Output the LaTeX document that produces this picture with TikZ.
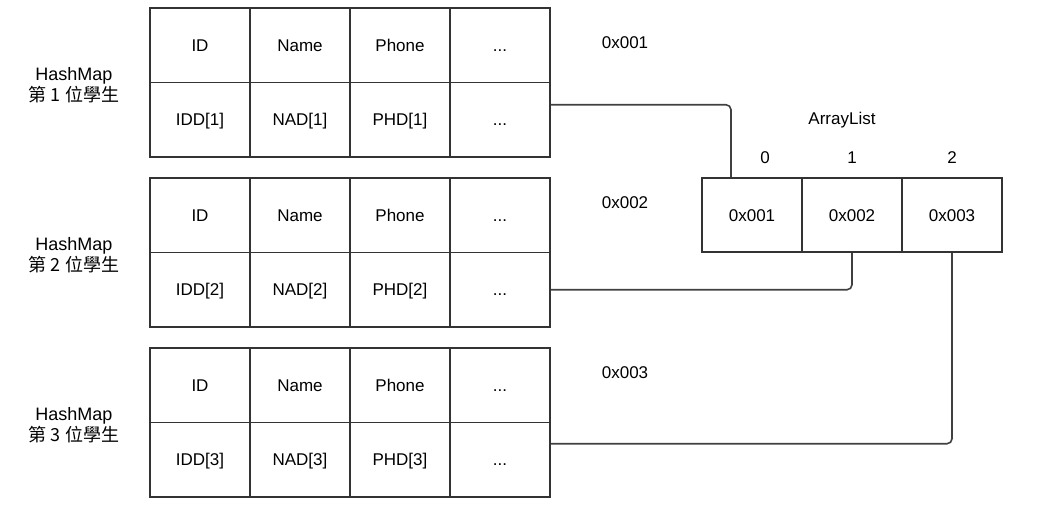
\documentclass[tikz,border=0pt]{standalone}
\usepackage{fontspec}
\setmainfont{Liberation Sans}
\newfontfamily\cjk{Noto Sans CJK TC}
\usetikzlibrary{calc}
\tikzset{
	cell/.style={draw=black!80, line width=1.6pt, minimum width=100pt, minimum height=74.5pt, inner sep=0pt, text height=12.5pt, text depth=0pt, font=\fontsize{17}{20}\selectfont},
	label/.style={font=\fontsize{17}{20}\selectfont, align=center},
	owner/.style={font=\fontsize{18}{21}\selectfont, align=center},
	link/.style={draw=black!75, line width=1.6pt, rounded corners=5pt}
}

\begin{document}
\begin{tikzpicture}[x=1pt, y=-1pt]
		%%%%% START %%%%%
		\useasboundingbox (0, 0) rectangle (1045, 518);
		
		% first student
		\node[cell] (h1a) at (200, 45.25) {ID};
		\node[cell] (h1b) at (300, 45.25) {Name};
		\node[cell] (h1c) at (400, 45.25) {Phone};
		\node[cell] (h1d) at (500, 45.25) {...};
		\node[cell] (d1a) at (200, 119.75) {IDD[1]};
		\node[cell] (d1b) at (300, 119.75) {NAD[1]};
		\node[cell] (d1c) at (400, 119.75) {PHD[1]};
		\node[cell] (d1d) at (500, 119.75) {...};
		\node[owner] (s1) at (74, 85) {HashMap\\{\cjk 第 1 位學生}};
		\node[label] (m1) at (625, 43) {0x001};
		
		% second student
		\node[cell] (h2a) at (200, 215.25) {ID};
		\node[cell] (h2b) at (300, 215.25) {Name};
		\node[cell] (h2c) at (400, 215.25) {Phone};
		\node[cell] (h2d) at (500, 215.25) {...};
		\node[cell] (d2a) at (200, 289.75) {IDD[2]};
		\node[cell] (d2b) at (300, 289.75) {NAD[2]};
		\node[cell] (d2c) at (400, 289.75) {PHD[2]};
		\node[cell] (d2d) at (500, 289.75) {...};
		\node[owner] (s2) at (74, 255) {HashMap\\{\cjk 第 2 位學生}};
		\node[label] (m2) at (625, 203) {0x002};
		
		% third student
		\node[cell] (h3a) at (200, 385.25) {ID};
		\node[cell] (h3b) at (300, 385.25) {Name};
		\node[cell] (h3c) at (400, 385.25) {Phone};
		\node[cell] (h3d) at (500, 385.25) {...};
		\node[cell] (d3a) at (200, 459.75) {IDD[3]};
		\node[cell] (d3b) at (300, 459.75) {NAD[3]};
		\node[cell] (d3c) at (400, 459.75) {PHD[3]};
		\node[cell] (d3d) at (500, 459.75) {...};
		\node[owner] (s3) at (74, 425) {HashMap\\{\cjk 第 3 位學生}};
		\node[label] (m3) at (625, 373) {0x003};
		
		% array list
		\node[cell, minimum height=74pt] (a0) at (752, 215) {0x001};
		\node[cell, minimum height=74pt] (a1) at (852, 215) {0x002};
		\node[cell, minimum height=74pt] (a2) at (952, 215) {0x003};
		\node[label] (al) at (842, 120) {ArrayList};
		\node[label] (i0) at (765, 158) {0};
		\node[label] (i1) at (852, 158) {1};
		\node[label] (i2) at (952, 158) {2};
		
		% links
		\draw[link] ([yshift=15pt]d1d.east) -| ([xshift=-21pt]a0.north);
		\draw[link] (a1.south) |- (d2d.east);
		\draw[link] (a2.south) |- ([yshift=16pt]d3d.east);
		%%%%% END %%%%%
	\end{tikzpicture}
\end{document}
